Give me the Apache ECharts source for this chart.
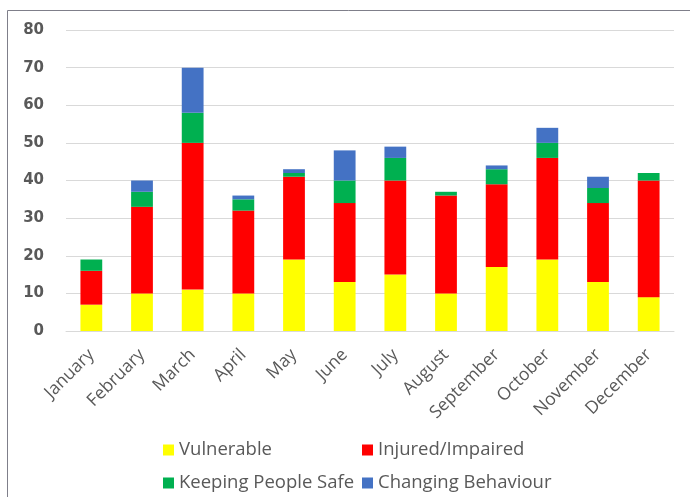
<!DOCTYPE html>
<html><head><meta charset="utf-8">
<script src="https://cdn.jsdelivr.net/npm/echarts@6/dist/echarts.min.js"></script>
<style>html,body{margin:0;padding:0;background:#fff}#c{width:690px;height:497px}</style>
</head><body><div id="c"></div>
<script>
const months = ['January','February','March','April','May','June','July','August','September','October','November','December'];
const vulnerable = [7,10,11,10,19,13,15,10,17,19,13,9];
const injured    = [9,23,39,22,22,21,25,26,22,27,21,31];
const keeping    = [3,4,8,3,1,6,6,1,4,4,4,2];
const changing   = [0,3,12,1,1,8,3,0,1,4,3,0];
const yTicks = [0,10,20,30,40,50,60,70,80];

const chart = echarts.init(document.getElementById('c'), null, {renderer:'canvas'});
const txt = '#595959';
const legendStyle = (name, left, top) => ({
  data:[name], left:left, top:top, itemWidth:11, itemHeight:11, icon:'rect',
  itemGap:0, selectedMode:false,
  textStyle:{color:txt, fontSize:18.5, lineHeight:20, fontFamily:'Open Sans'}
});
const mk = (name, data, color) => ({
  name, type:'bar', stack:'all', data, barWidth:'43%',
  itemStyle:{color}, emphasis:{disabled:true}
});
chart.setOption({
  animation:false,
  grid:{left:66, right:16, top:30, bottom:166, containLabel:false},
  legend:[
    legendStyle('Vulnerable', 158, 435),
    legendStyle('Injured/Impaired', 357, 435),
    legendStyle('Keeping People Safe', 158, 468),
    legendStyle('Changing Behaviour', 357, 468)
  ],
  xAxis:{type:'category', data:months,
    axisLine:{lineStyle:{color:'#d9d9d9', width:1}},
    axisTick:{show:false},
    axisLabel:{rotate:45, color:txt, fontSize:17.5, fontFamily:'Open Sans', margin:21, interval:0}},
  yAxis:{type:'value', min:yTicks[0], max:yTicks[yTicks.length-1], interval:10,
    axisLine:{show:false}, axisTick:{show:false},
    splitLine:{lineStyle:{color:'#d9d9d9', width:1}},
    axisLabel:{color:txt, fontSize:15, fontWeight:'bold', fontFamily:'DejaVu Sans', margin:22}},
  series:[
    mk('Vulnerable', vulnerable, '#ffff00'),
    mk('Injured/Impaired', injured, '#ff0000'),
    mk('Keeping People Safe', keeping, '#00b050'),
    mk('Changing Behaviour', changing, '#4472c4')
  ],
  graphic:[
    {type:'polyline', shape:{points:[[7.5,497],[7.5,10.5],[690,10.5]]}, style:{stroke:'#7f7f8a', fill:null, lineWidth:1}}
  ]
});
</script></body></html>
